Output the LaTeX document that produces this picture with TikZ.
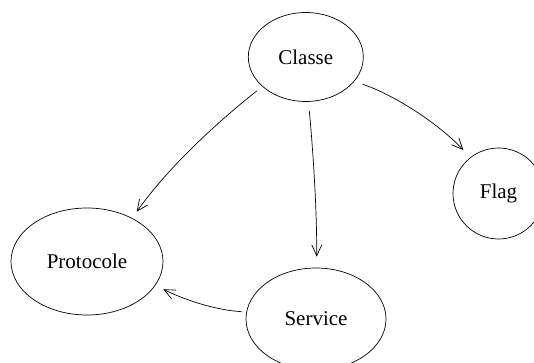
\documentclass[tikz,border=0pt]{standalone}
\usepackage{fontspec}
\setmainfont{Liberation Serif}
\usetikzlibrary{shapes.geometric,arrows.meta,calc}

\tikzset{
  entity/.style={draw, ellipse, inner sep=0pt, line width=0.7pt,
    font=\fontsize{21}{25}\selectfont},
  round/.style={draw, circle, inner sep=0pt, line width=0.7pt,
    font=\fontsize{21}{25}\selectfont},
  link/.style={line width=0.7pt,
    -{Straight Barb[length=11pt,width=10pt,line width=0.7pt]}}
}

\begin{document}
\begin{tikzpicture}[x=1pt,y=-1pt]
  \useasboundingbox (0,0) rectangle (534,363);
  \clip (0,0) rectangle (534,363);

  % entities
  \node[entity, minimum width=115pt, minimum height=89pt]  (classe)    at (305.8,57)  {Classe};
  \node[entity, minimum width=152pt, minimum height=107pt] (protocole) at (87,261.5)  {Protocole};
  \node[round,  minimum size=91pt]                         (flag)      at (498.5,193.5) {Flag};
  \node[entity, minimum width=140pt, minimum height=102pt] (service)   at (316,319)   {Service};

  % relations
  \draw[link] ($(classe)+(-49.1,34)$) .. controls (220,120) and (170,165) .. ($(protocole)+(49.7,-49.8)$);
  \draw[link] ($(classe)+(3.5,54)$) .. controls (313,150) and (317,210) .. ($(service)+(0.7,-62.3)$);
  \draw[link] ($(classe)+(56.9,27.3)$) .. controls (395,95) and (440,125) .. ($(flag)+(-35.2,-43.5)$);
  \draw[link] ($(service)+(-74.3,-7.3)$) .. controls (215,310) and (185,300) .. ($(protocole)+(76.3,27.8)$);
\end{tikzpicture}
\end{document}
